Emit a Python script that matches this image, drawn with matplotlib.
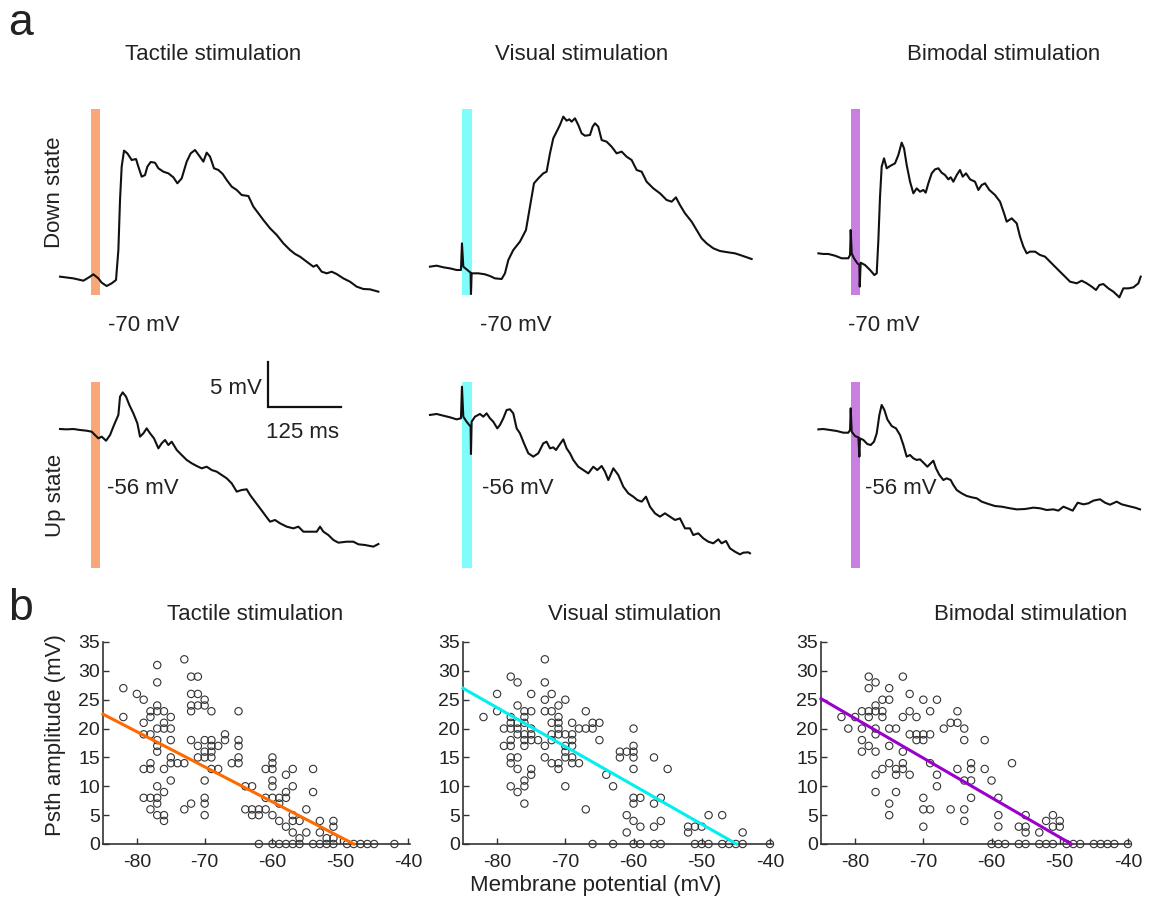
import numpy as np
import matplotlib.pyplot as plt

plt.rcParams['font.family'] = ['Liberation Sans', 'DejaVu Sans']
plt.rcParams['axes.unicode_minus'] = False

W, H = 1153, 910
MS_PX = 0.59   # pixels per ms in panel a
MV_PX = 9.0    # pixels per mV in panel a

# %% Panel a: example traces, (ms from stimulus onset, mV)
tactile_down = [(-52.0, -69.85), (-29.4, -70.04), (-12.4, -70.30), (-1.1, -69.85), (4.5, -69.59),
                (13.0, -70.04), (18.6, -70.52), (27.1, -70.89), (35.6, -70.59), (42.9, -70.22),
                (46.9, -66.89), (49.7, -61.33), (52.5, -57.63), (56.5, -55.85), (62.1, -56.15),
                (69.5, -56.89), (76.8, -56.78), (80.8, -57.63), (86.4, -58.74), (92.1, -58.56),
                (96.0, -57.63), (101.7, -57.11), (109.0, -57.19), (114.7, -57.81), (123.2, -58.19),
                (131.6, -58.37), (140.1, -58.81), (146.9, -59.48), (154.2, -58.93), (162.7, -57.07),
                (169.5, -56.15), (176.8, -55.78), (184.2, -56.44), (191.0, -57.07), (196.6, -56.07),
                (202.3, -56.52), (209.0, -57.81), (216.4, -58.00), (223.7, -58.44), (230.5, -59.11),
                (239.0, -59.85), (247.5, -60.22), (255.9, -60.78), (267.2, -60.89), (275.7, -62.07),
                (284.2, -62.81), (292.7, -63.56), (304.0, -64.48), (315.3, -65.22), (326.6, -66.15),
                (337.9, -66.89), (346.3, -67.33), (354.8, -67.63), (366.1, -68.19), (377.4, -68.74),
                (383.1, -68.56), (391.5, -69.30), (400.0, -69.48), (408.5, -69.30), (416.9, -69.56),
                (428.2, -70.04), (439.5, -70.41), (450.8, -70.96), (462.1, -71.22), (473.4, -71.26),
                (487.6, -71.52)]
visual_down = [(-54.8, -68.74), (-43.5, -68.63), (-32.2, -68.81), (-20.9, -68.93), (-9.6, -69.11),
               (-2.3, -69.11), (-0.6, -66.15), (1.7, -68.74), (7.3, -69.04), (14.1, -69.41),
               (14.7, -71.78), (15.8, -69.48), (27.1, -69.48), (38.4, -69.59), (46.9, -69.78),
               (55.4, -70.04), (66.7, -70.11), (72.3, -69.48), (78.0, -68.00), (86.4, -66.89),
               (97.7, -65.96), (107.9, -64.67), (114.7, -62.07), (121.5, -59.48), (128.8, -58.93),
               (137.3, -58.37), (142.9, -58.19), (148.6, -56.15), (154.2, -54.48), (159.9, -53.74),
               (165.5, -53.00), (171.2, -52.07), (176.8, -52.52), (181.4, -52.37), (185.3, -52.63),
               (191.0, -52.26), (196.6, -53.00), (202.3, -53.93), (207.9, -54.19), (216.4, -54.11),
               (220.9, -53.19), (224.9, -52.81), (230.5, -53.19), (236.2, -54.67), (244.6, -54.85),
               (253.1, -55.41), (261.6, -56.15), (270.1, -55.96), (278.5, -56.52), (287.0, -56.89),
               (295.5, -58.00), (304.0, -58.19), (312.4, -59.30), (323.7, -60.04), (335.0, -60.59),
               (346.3, -61.33), (354.8, -61.52), (362.1, -61.04), (368.9, -61.89), (377.4, -62.81),
               (388.7, -63.74), (397.2, -64.67), (405.6, -65.59), (414.1, -66.15), (425.4, -66.70),
               (436.7, -67.00), (450.8, -67.15), (462.1, -67.26), (470.6, -67.44), (479.1, -67.63),
               (490.4, -67.89)]
bimodal_down = [(-54.8, -67.26), (-46.3, -67.33), (-37.9, -67.33), (-26.6, -67.52), (-15.3, -67.81),
                (-4.0, -67.81), (-1.1, -67.44), (0.0, -64.67), (1.7, -67.26), (5.6, -67.81),
                (11.3, -68.37), (14.7, -68.56), (15.3, -70.96), (16.9, -68.30), (24.3, -68.56),
                (32.8, -69.11), (40.1, -69.67), (44.1, -69.48), (46.9, -65.78), (49.7, -60.96),
                (52.5, -57.63), (56.5, -56.70), (61.0, -57.81), (66.7, -57.56), (75.1, -57.26),
                (80.8, -56.33), (86.4, -54.96), (90.4, -55.59), (94.9, -57.44), (100.6, -59.30),
                (106.2, -60.59), (111.9, -60.04), (117.5, -60.41), (123.2, -60.22), (127.1, -60.52),
                (131.6, -59.48), (137.3, -58.37), (142.9, -57.93), (148.6, -57.81), (154.2, -58.30),
                (159.9, -58.56), (165.5, -59.04), (169.5, -58.81), (174.0, -59.30), (179.7, -58.56),
                (185.3, -58.00), (189.8, -58.74), (195.5, -58.37), (202.3, -59.04), (210.7, -59.30),
                (216.4, -60.22), (222.0, -59.67), (227.7, -59.48), (235.0, -60.22), (244.6, -60.78),
                (253.1, -61.52), (259.9, -62.81), (264.4, -63.74), (272.9, -63.37), (281.4, -63.93),
                (287.0, -65.41), (292.7, -66.52), (298.3, -67.26), (304.0, -67.07), (312.4, -67.07),
                (320.9, -67.44), (329.4, -67.63), (335.0, -68.00), (343.5, -68.56), (354.8, -69.30),
                (363.3, -69.85), (371.8, -70.41), (383.1, -70.59), (391.5, -70.30), (400.0, -70.59),
                (408.5, -70.96), (415.8, -71.33), (421.5, -70.78), (428.2, -70.67), (436.7, -71.15),
                (445.2, -71.52), (455.4, -72.15), (462.1, -71.15), (470.6, -71.15), (479.1, -71.04),
                (487.6, -70.59), (491.5, -69.85)]
tactile_up = [(-52.0, -56.00), (-40.7, -56.04), (-29.4, -56.00), (-18.1, -56.11), (-6.8, -56.19),
              (1.7, -56.30), (7.3, -56.67), (13.0, -57.04), (18.6, -56.85), (26.0, -57.30),
              (32.8, -56.67), (39.5, -55.56), (46.9, -54.44), (49.7, -52.41), (54.2, -51.93),
              (59.9, -52.41), (65.5, -53.33), (72.3, -54.26), (79.1, -55.37), (83.6, -56.85),
              (89.3, -56.48), (94.9, -55.93), (100.6, -56.48), (107.3, -57.04), (114.7, -58.15),
              (120.3, -57.59), (126.0, -57.22), (131.6, -57.78), (137.3, -57.41), (145.8, -58.33),
              (154.2, -58.89), (162.7, -59.44), (171.2, -59.81), (179.7, -60.11), (188.1, -60.37),
              (196.6, -60.19), (205.1, -60.56), (213.6, -60.74), (222.0, -61.11), (230.5, -61.48),
              (239.0, -62.04), (247.5, -62.96), (255.9, -62.78), (264.4, -62.70), (270.1, -63.33),
              (278.5, -64.07), (287.0, -64.81), (295.5, -65.56), (304.0, -66.30), (312.4, -66.11),
              (320.9, -66.48), (332.2, -66.85), (343.5, -67.04), (352.0, -66.85), (360.5, -67.41),
              (371.8, -67.41), (383.1, -67.41), (388.7, -66.85), (394.4, -67.41), (402.8, -67.78),
              (411.3, -68.33), (419.8, -68.63), (433.9, -68.52), (445.2, -68.52), (453.7, -68.81),
              (465.0, -68.89), (479.1, -69.07), (487.6, -68.78)]
visual_up = [(-54.8, -54.44), (-43.5, -54.33), (-32.2, -54.52), (-20.9, -54.70), (-9.6, -54.93),
             (-2.3, -54.81), (-0.6, -51.30), (1.7, -54.63), (7.3, -55.19), (14.1, -55.74),
             (14.7, -58.78), (15.8, -55.19), (21.5, -54.63), (29.9, -54.33), (35.6, -54.63),
             (41.2, -54.26), (46.9, -54.81), (52.5, -55.19), (59.3, -55.93), (63.8, -55.56),
             (69.5, -54.81), (75.1, -53.89), (80.8, -53.81), (86.4, -54.26), (92.1, -55.93),
             (97.7, -56.48), (104.5, -57.59), (111.9, -58.70), (120.3, -59.07), (128.8, -58.70),
             (137.3, -57.59), (142.9, -57.41), (148.6, -58.15), (154.2, -58.04), (158.8, -58.33),
             (164.4, -57.78), (171.2, -57.15), (176.8, -58.15), (182.5, -58.70), (188.1, -59.44),
             (196.6, -60.19), (205.1, -60.56), (213.6, -60.93), (222.0, -60.19), (228.8, -60.56),
             (236.2, -60.11), (241.8, -60.74), (247.5, -61.67), (256.0, -60.37), (264.4, -61.11),
             (272.9, -62.41), (281.4, -63.15), (289.8, -63.52), (296.6, -63.89), (304.0, -64.07),
             (311.3, -63.52), (318.1, -64.63), (326.6, -65.37), (335.0, -65.74), (343.5, -65.37),
             (352.0, -65.74), (360.5, -66.11), (368.9, -65.93), (377.4, -67.04), (385.9, -67.04),
             (391.5, -67.78), (400.0, -67.59), (408.5, -68.15), (416.9, -68.52), (425.4, -68.70),
             (433.9, -68.26), (439.5, -68.70), (446.9, -68.44), (453.7, -69.26), (462.1, -69.63),
             (470.6, -69.93), (476.3, -69.74), (484.7, -69.70), (487.6, -69.81)]
bimodal_up = [(-54.8, -56.04), (-46.3, -56.00), (-35.0, -56.11), (-23.7, -56.22), (-12.4, -56.41),
              (-4.0, -56.41), (-1.1, -56.11), (0.0, -53.70), (1.7, -56.30), (7.3, -56.78),
              (13.0, -56.93), (14.7, -59.07), (15.8, -57.04), (21.5, -57.22), (28.2, -57.67),
              (33.9, -57.78), (39.5, -57.41), (44.1, -56.48), (48.6, -54.44), (52.5, -53.33),
              (57.1, -53.89), (62.1, -54.93), (69.5, -55.67), (76.8, -55.93), (83.6, -56.67),
              (89.3, -57.78), (94.9, -59.07), (100.6, -58.89), (106.2, -59.26), (111.9, -59.44),
              (117.5, -59.37), (124.3, -59.81), (129.9, -60.19), (135.6, -59.81), (140.1, -59.52),
              (144.6, -60.37), (150.3, -61.11), (157.1, -61.67), (162.7, -61.48), (169.5, -61.67),
              (174.0, -62.22), (179.7, -62.78), (188.1, -63.15), (196.6, -63.44), (205.1, -63.59),
              (213.6, -63.70), (222.0, -64.07), (233.3, -64.33), (244.6, -64.56), (255.9, -64.63),
              (270.1, -64.81), (281.4, -64.93), (295.5, -64.89), (309.6, -64.74), (320.9, -64.81),
              (332.2, -65.00), (343.5, -64.93), (352.0, -65.07), (360.5, -64.63), (367.2, -64.81),
              (376.3, -65.07), (384.7, -64.19), (394.4, -64.37), (402.8, -64.26), (411.3, -63.96),
              (422.6, -63.81), (431.1, -64.19), (439.5, -64.41), (450.8, -64.07), (459.3, -64.37),
              (470.6, -64.56), (481.9, -64.74), (490.4, -64.93)]

stim_names = ['Tactile stimulation', 'Visual stimulation', 'Bimodal stimulation']
stim_duration_ms = 16.5
down_traces = [tactile_down, visual_down, bimodal_down]
up_traces = [tactile_up, visual_up, bimodal_up]
down_labels = ['-70 mV', '-70 mV', '-70 mV']
up_labels = ['-56 mV', '-56 mV', '-56 mV']
scale_mv = 5
scale_ms = 125

# %% Panel b: PSTH amplitude vs membrane potential, (mV, mV)
tactile_pts = [(-82, 27), (-82, 22), (-80, 26), (-79, 25), (-79, 21), (-79, 19), (-79, 13), (-79, 8),
               (-78, 23), (-78, 22), (-78, 19), (-78, 14), (-78, 13), (-78, 8), (-78, 6), (-77, 31),
               (-77, 28), (-77, 24), (-77, 23), (-77, 20), (-77, 18), (-77, 17), (-77, 16), (-77, 10),
               (-77, 8), (-77, 7), (-77, 5), (-76, 23), (-76, 21), (-76, 20), (-76, 13), (-76, 9),
               (-76, 5), (-76, 4), (-75, 22), (-75, 20), (-75, 18), (-75, 15), (-75, 14), (-75, 11),
               (-74, 14), (-73, 32), (-73, 14), (-73, 6), (-72, 29), (-72, 26), (-72, 24), (-72, 23),
               (-72, 18), (-72, 7), (-71, 29), (-71, 26), (-71, 24), (-71, 17), (-71, 15), (-70, 25),
               (-70, 24), (-70, 18), (-70, 16), (-70, 15), (-70, 11), (-70, 8), (-70, 7), (-70, 5),
               (-69, 23), (-69, 18), (-69, 17), (-69, 16), (-69, 15), (-69, 13), (-68, 17), (-68, 13),
               (-67, 19), (-67, 18), (-66, 14), (-65, 23), (-65, 18), (-65, 17), (-65, 15), (-65, 14),
               (-64, 10), (-64, 6), (-63, 10), (-63, 6), (-63, 5), (-62, 6), (-62, 5), (-62, 0),
               (-61, 13), (-61, 8), (-61, 6), (-60, 15), (-60, 14), (-60, 13), (-60, 11), (-60, 10),
               (-60, 8), (-60, 5), (-60, 0), (-59, 8), (-59, 7), (-59, 4), (-59, 0), (-58, 12),
               (-58, 9), (-58, 8), (-58, 3), (-58, 0), (-57, 13), (-57, 10), (-57, 5), (-57, 4),
               (-57, 2), (-57, 0), (-56, 4), (-56, 1), (-56, 0), (-55, 6), (-55, 2), (-54, 13),
               (-54, 9), (-54, 0), (-53, 4), (-53, 2), (-53, 0), (-52, 1), (-52, 0), (-51, 4),
               (-51, 3), (-51, 1), (-51, 0), (-49, 0), (-48, 0), (-47, 0), (-46, 0), (-45, 0),
               (-42, 0)]
visual_pts = [(-82, 22), (-80, 26), (-80, 23), (-79, 20), (-79, 17), (-78, 29), (-78, 22), (-78, 21),
              (-78, 20), (-78, 18), (-78, 17), (-78, 15), (-78, 14), (-78, 10), (-77, 28), (-77, 24),
              (-77, 21), (-77, 20), (-77, 19), (-77, 15), (-77, 13), (-77, 9), (-76, 23), (-76, 22),
              (-76, 21), (-76, 19), (-76, 18), (-76, 17), (-76, 11), (-76, 10), (-76, 7), (-75, 26),
              (-75, 23), (-75, 20), (-75, 19), (-75, 18), (-75, 13), (-75, 12), (-74, 18), (-73, 32),
              (-73, 28), (-73, 25), (-73, 23), (-73, 17), (-73, 15), (-72, 26), (-72, 23), (-72, 21),
              (-72, 19), (-72, 18), (-72, 14), (-71, 24), (-71, 22), (-71, 21), (-71, 20), (-71, 19),
              (-71, 14), (-71, 13), (-70, 25), (-70, 19), (-70, 17), (-70, 16), (-70, 15), (-70, 10),
              (-69, 21), (-69, 19), (-69, 18), (-69, 17), (-69, 15), (-69, 14), (-68, 14), (-68, 20),
              (-67, 23), (-67, 20), (-67, 6), (-66, 21), (-66, 20), (-66, 0), (-65, 21), (-65, 18),
              (-64, 12), (-63, 10), (-63, 0), (-62, 16), (-62, 15), (-61, 16), (-61, 5), (-61, 2),
              (-60, 20), (-60, 17), (-60, 16), (-60, 15), (-60, 13), (-60, 8), (-60, 7), (-60, 4),
              (-60, 0), (-59, 8), (-59, 3), (-59, 0), (-57, 15), (-57, 7), (-57, 3), (-57, 0),
              (-56, 8), (-56, 4), (-56, 0), (-55, 13), (-52, 3), (-52, 2), (-51, 3), (-51, 0),
              (-50, 3), (-50, 0), (-49, 5), (-49, 0), (-47, 5), (-47, 0), (-46, 0), (-45, 0),
              (-44, 2), (-44, 0), (-40, 0)]
bimodal_pts = [(-82, 22), (-81, 20), (-80, 22), (-79, 23), (-79, 20), (-79, 18), (-79, 16), (-78, 29),
               (-78, 27), (-78, 23), (-78, 22), (-78, 17), (-77, 28), (-77, 24), (-77, 23), (-77, 20),
               (-77, 19), (-77, 16), (-77, 12), (-77, 9), (-76, 25), (-76, 23), (-76, 22), (-76, 13),
               (-75, 27), (-75, 25), (-75, 20), (-75, 17), (-75, 14), (-75, 7), (-75, 5), (-74, 20),
               (-74, 13), (-74, 12), (-74, 9), (-73, 29), (-73, 22), (-73, 16), (-73, 14), (-73, 13),
               (-72, 26), (-72, 23), (-72, 19), (-72, 12), (-71, 22), (-71, 19), (-71, 18), (-70, 25),
               (-70, 19), (-70, 18), (-70, 8), (-70, 6), (-70, 3), (-69, 19), (-69, 23), (-69, 14),
               (-69, 6), (-68, 25), (-68, 12), (-68, 10), (-67, 20), (-66, 6), (-66, 21), (-65, 23),
               (-65, 21), (-65, 13), (-64, 20), (-64, 18), (-64, 11), (-64, 6), (-64, 4), (-63, 14),
               (-63, 13), (-63, 11), (-63, 8), (-61, 18), (-61, 13), (-60, 11), (-60, 0), (-59, 8),
               (-59, 5), (-59, 3), (-59, 0), (-58, 0), (-57, 14), (-56, 3), (-56, 0), (-55, 5),
               (-55, 3), (-55, 2), (-55, 0), (-53, 2), (-53, 0), (-52, 4), (-52, 0), (-51, 5),
               (-51, 3), (-51, 0), (-50, 4), (-50, 3), (-49, 0), (-48, 0), (-47, 0), (-45, 0),
               (-44, 0), (-43, 0), (-42, 0), (-40, 0)]
scatter_sets = [tactile_pts, visual_pts, bimodal_pts]
# regression lines: (slope, x-intercept)
fit_params = [(-0.608, -48.0), (-0.673, -44.9), (-0.686, -48.3)]
y_ticks = [0, 5, 10, 15, 20, 25, 30, 35]
x_ticks = [-80, -70, -60, -50, -40]

bar_colors = ['#f8a878', '#7ffcfb', '#c97fe1']
fit_colors = ['#ff6a00', '#00f0f0', '#9a00cc']
TXT = '#222222'

fig = plt.figure(figsize=(W / 100, H / 100), dpi=100)


def px_axes(left, top, right, bottom):
    return fig.add_axes([left / W, 1 - bottom / H, (right - left) / W, (bottom - top) / H])


def px_text(x, y, s, **kw):
    kw.setdefault('fontsize', 16)
    kw.setdefault('color', TXT)
    fig.text(x / W, 1 - y / H, s, **kw)


# %% Panel a
stim_px = [90.7, 462.3, 850.7]
rows = [dict(top=109, bottom=295, ref_px=278, ref_mv=-70, traces=down_traces),
        dict(top=382, bottom=568, ref_px=429, ref_mv=-56, traces=up_traces)]
t_lo, t_hi = -62, 500
trace_axes = {}
for r, row in enumerate(rows):
    for c in range(3):
        left = stim_px[c] + t_lo * MS_PX
        right = stim_px[c] + t_hi * MS_PX
        ax = px_axes(left, row['top'], right, row['bottom'])
        ax.set_xlim(t_lo, t_hi)
        ax.set_ylim(row['ref_mv'] - (row['bottom'] - row['ref_px']) / MV_PX,
                    row['ref_mv'] + (row['ref_px'] - row['top']) / MV_PX)
        ax.axis('off')
        ax.axvspan(0, stim_duration_ms, color=bar_colors[c], lw=0, zorder=1)
        tr = np.array(row['traces'][c])
        ax.plot(tr[:, 0], tr[:, 1], color='#111111', lw=1.5, zorder=2, clip_on=False)
        trace_axes[(r, c)] = ax

# scale bar on the tactile up-state trace
ax = trace_axes[(1, 0)]
sb_t, sb_v = 300, -53.56
ax.plot([sb_t, sb_t, sb_t + scale_ms], [sb_v + scale_mv, sb_v, sb_v],
        color='#111111', lw=1.6, clip_on=False, solid_joinstyle='miter')
px_text(262, 388, f'{scale_mv} mV', ha='right', va='center')
px_text(302, 432, f'{scale_ms} ms', ha='center', va='center')

for x, s in zip([213, 582, 1004], stim_names):
    px_text(x, 55, s, ha='center', va='center')
for x, s in zip([108, 480, 848], down_labels):
    px_text(x, 325, s, ha='left', va='center')
for x, s in zip([107, 482, 865], up_labels):
    px_text(x, 488, s, ha='left', va='center')
px_text(55, 192, 'Down state', ha='center', va='center', rotation=90)
px_text(55, 495, 'Up state', ha='center', va='center', rotation=90)
px_text(8, 35, 'a', fontsize=32, ha='left', va='baseline')
px_text(8, 620, 'b', fontsize=32, ha='left', va='baseline')

# %% Panel b
scatter_px = [(103, 410), (463, 772), (821, 1130)]
for c, (l, r) in enumerate(scatter_px):
    ax = px_axes(l, 642, r, 844)
    pts = np.array(scatter_sets[c], dtype=float)
    ax.scatter(pts[:, 0], pts[:, 1], s=28, facecolors='none', edgecolors='#333333',
               linewidths=0.8, clip_on=False, zorder=3)
    slope, x0 = fit_params[c]
    xs = np.array([-85, x0])
    ax.plot(xs, slope * (xs - x0), color=fit_colors[c], lw=2.2, zorder=4, clip_on=False)
    ax.set_xlim(-85, -39.7)
    ax.set_ylim(0, 35)
    ax.set_xticks(x_ticks)
    ax.set_yticks(y_ticks)
    for side in ['top', 'right']:
        ax.spines[side].set_visible(False)
    for side in ['left', 'bottom']:
        ax.spines[side].set_color('#333333')
        ax.spines[side].set_linewidth(1.2)
    ax.tick_params(direction='in', length=4, width=1, color='#333333',
                   labelsize=14, labelcolor=TXT)
    ax.tick_params(axis='x', pad=7)
    ax.tick_params(axis='y', pad=2)
    ax.patch.set_alpha(0)

for x, s in zip([255, 635, 1031], stim_names):
    px_text(x, 614, s, ha='center', va='center')
px_text(56, 735, 'Psth amplitude (mV)', ha='center', va='center', rotation=90)
px_text(596, 885, 'Membrane potential (mV)', ha='center', va='center')

fig.savefig('out.png', dpi=100)
